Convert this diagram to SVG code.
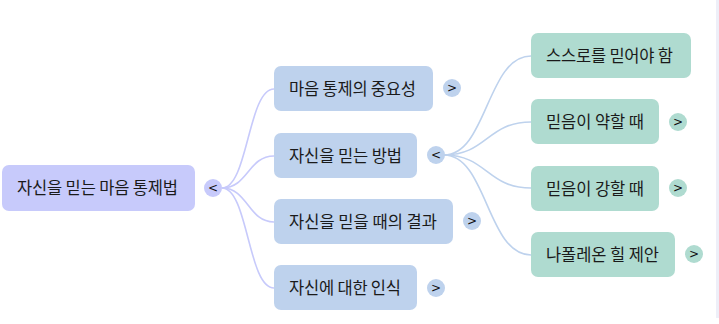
<svg xmlns="http://www.w3.org/2000/svg" width="719" height="324" viewBox="0 0 719 324">
<style>
.t{font-family:"Noto Sans CJK KR","Noto Sans",sans-serif;font-size:16.5px;fill:#1a1a1a}
.tg{font-family:"DejaVu Sans","Liberation Sans",sans-serif;font-size:12px;fill:#111;text-anchor:middle}
.r{fill:#c7cafb}
.l1{fill:#bed2ed}
.l2{fill:#afdbd0}
.c0{fill:none;stroke:#c7cafb;stroke-width:1.6}
.c1{fill:none;stroke:#bed2ed;stroke-width:1.6}
</style>
<rect x="0" y="0" width="719" height="324" fill="#ffffff"/>
<rect x="716" y="0" width="3" height="318" fill="#eeeff8"/>
<g id="connectors">
<path class="c0" d="M222 188 C248 188 248 89 274 89"/>
<path class="c0" d="M222 188 C248 188 248 156 274 156"/>
<path class="c0" d="M222 188 C248 188 248 222 274 222"/>
<path class="c0" d="M222 188 C248 188 248 288 274 288"/>
<path class="c1" d="M444 155 C487 155 487 56 531 56"/>
<path class="c1" d="M444 155 C487 155 487 122 531 122"/>
<path class="c1" d="M444 155 C487 155 487 188 531 188"/>
<path class="c1" d="M444 155 C487 155 487 255 531 255"/>
</g>
<g id="root">
<rect class="r" x="2" y="165" width="193" height="46" rx="7"/>
<text class="t" x="17" y="194" textLength="161" lengthAdjust="spacing">자신을 믿는 마음 통제법</text>
<circle class="r" cx="213" cy="188" r="9"/>
<text class="tg" x="213" y="192">&lt;</text>
</g>
<g id="n1">
<rect class="l1" x="274" y="66" width="159" height="45" rx="7"/>
<text class="t" x="289" y="94.5" textLength="127" lengthAdjust="spacing">마음 통제의 중요성</text>
<circle class="l1" cx="452" cy="88" r="9"/>
<text class="tg" x="452" y="92">&gt;</text>
</g>
<g id="n2">
<rect class="l1" x="274" y="133" width="143" height="45" rx="7"/>
<text class="t" x="289" y="161.5" textLength="113" lengthAdjust="spacing">자신을 믿는 방법</text>
<circle class="l1" cx="436" cy="155" r="9"/>
<text class="tg" x="436" y="159">&lt;</text>
</g>
<g id="n3">
<rect class="l1" x="274" y="199" width="179" height="45" rx="7"/>
<text class="t" x="289" y="227.5" textLength="148" lengthAdjust="spacing">자신을 믿을 때의 결과</text>
<circle class="l1" cx="472" cy="221" r="9"/>
<text class="tg" x="472" y="225">&gt;</text>
</g>
<g id="n4">
<rect class="l1" x="274" y="265" width="143" height="45" rx="7"/>
<text class="t" x="289" y="293.5" textLength="112" lengthAdjust="spacing">자신에 대한 인식</text>
<circle class="l1" cx="436" cy="288" r="9"/>
<text class="tg" x="436" y="292">&gt;</text>
</g>
<g id="n21">
<rect class="l2" x="531" y="33" width="160" height="45" rx="7"/>
<text class="t" x="546" y="61.5" textLength="127" lengthAdjust="spacing">스스로를 믿어야 함</text>
</g>
<g id="n22">
<rect class="l2" x="531" y="99" width="128" height="45" rx="7"/>
<text class="t" x="546" y="127.5" textLength="98" lengthAdjust="spacing">믿음이 약할 때</text>
<circle class="l2" cx="678" cy="122" r="9"/>
<text class="tg" x="678" y="126">&gt;</text>
</g>
<g id="n23">
<rect class="l2" x="531" y="166" width="128" height="45" rx="7"/>
<text class="t" x="546" y="194.5" textLength="98" lengthAdjust="spacing">믿음이 강할 때</text>
<circle class="l2" cx="678" cy="188" r="9"/>
<text class="tg" x="678" y="192">&gt;</text>
</g>
<g id="n24">
<rect class="l2" x="531" y="232" width="144" height="45" rx="7"/>
<text class="t" x="546" y="260.5" textLength="113" lengthAdjust="spacing">나폴레온 힐 제안</text>
<circle class="l2" cx="694" cy="254" r="9"/>
<text class="tg" x="694" y="258">&gt;</text>
</g>
</svg>
